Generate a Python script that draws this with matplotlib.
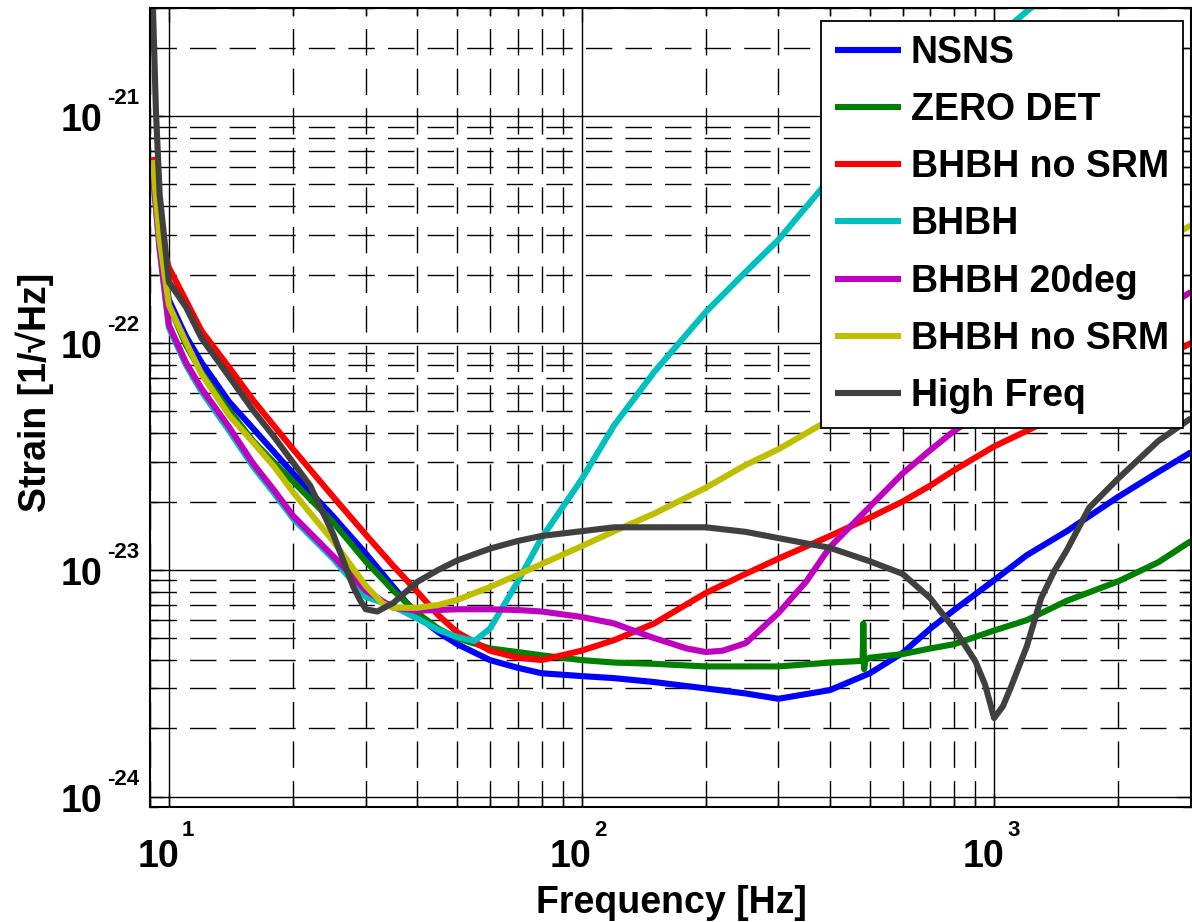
import numpy as np
import matplotlib
matplotlib.use("Agg")
import matplotlib.pyplot as plt
from matplotlib import font_manager
from matplotlib.ticker import FixedLocator, NullFormatter
from matplotlib.transforms import offset_copy

# ---- noise curves (frequency in Hz, strain in 1/sqrt(Hz)) ----
f_nsns = [9.1, 9.2, 9.5, 10, 11, 12, 14, 16, 18, 20, 25, 30, 35, 40, 45, 50, 60, 70, 80,
          100, 120, 150, 200, 250, 300, 400, 500, 600, 700, 800, 1000, 1200, 1500, 2000,
          2500, 3000]
h_nsns = [6.4e-22, 5.3e-22, 2.85e-22, 1.55e-22, 1.07e-22, 8.2e-23, 5.5e-23, 4.2e-23,
          3.3e-23, 2.66e-23, 1.72e-23, 1.18e-23, 8.4e-24, 6.3e-24, 5.3e-24, 4.7e-24,
          4.0e-24, 3.7e-24, 3.5e-24, 3.4e-24, 3.33e-24, 3.2e-24, 3.0e-24, 2.85e-24,
          2.7e-24, 2.95e-24, 3.5e-24, 4.3e-24, 5.5e-24, 6.65e-24, 9.0e-24, 1.16e-23,
          1.48e-23, 2.1e-23, 2.7e-23, 3.3e-23]

f_zero_det = [9.1, 9.2, 9.5, 10, 11, 12, 14, 16, 18, 20, 25, 30, 35, 40, 45, 50, 60, 70,
              80, 100, 120, 150, 200, 250, 300, 400, 470, 480, 482, 484, 487, 500, 600,
              700, 800, 1000, 1200, 1500, 2000, 2500, 3000]
h_zero_det = [6.4e-22, 5.3e-22, 2.85e-22, 1.47e-22, 9.8e-23, 7.4e-23, 5.05e-23, 3.7e-23,
              2.97e-23, 2.45e-23, 1.62e-23, 1.09e-23, 8.1e-24, 6.45e-24, 5.5e-24, 5.0e-24,
              4.5e-24, 4.34e-24, 4.2e-24, 4.0e-24, 3.9e-24, 3.85e-24, 3.75e-24, 3.75e-24,
              3.75e-24, 3.9e-24, 3.96e-24, 3.97e-24, 5.8e-24, 3.65e-24, 4.0e-24, 4.1e-24,
              4.25e-24, 4.5e-24, 4.7e-24, 5.4e-24, 6.0e-24, 7.3e-24, 8.9e-24, 1.08e-23,
              1.34e-23]

f_bhbh_nosrm = [9.1, 9.2, 9.5, 10, 11, 12, 14, 16, 18, 20, 25, 30, 35, 40, 45, 50, 60, 70,
                80, 100, 120, 150, 200, 250, 300, 400, 500, 600, 700, 800, 1000, 1200,
                1500, 2000, 2500, 3000]
h_bhbh_nosrm = [6.6e-22, 5.5e-22, 3.0e-22, 2.15e-22, 1.54e-22, 1.13e-22, 7.8e-23, 5.6e-23,
                4.3e-23, 3.4e-23, 2.1e-23, 1.43e-23, 1.04e-23, 8.0e-24, 6.3e-24, 5.3e-24,
                4.4e-24, 4.1e-24, 4.0e-24, 4.4e-24, 4.9e-24, 5.8e-24, 7.9e-24, 9.6e-24,
                1.12e-23, 1.41e-23, 1.70e-23, 2.0e-23, 2.35e-23, 2.75e-23, 3.5e-23,
                4.1e-23, 5.0e-23, 6.7e-23, 8.4e-23, 1.0e-22]

f_bhbh = [9.1, 9.2, 9.5, 10, 11, 12, 14, 16, 18, 20, 25, 30, 35, 40, 45, 50, 55, 60, 70,
          80, 100, 120, 150, 200, 250, 300, 400, 500, 600, 700, 800, 1000, 1200, 1400]
h_bhbh = [6.2e-22, 4.9e-22, 2.55e-22, 1.17e-22, 8.0e-23, 6.1e-23, 4.1e-23, 2.85e-23,
          2.17e-23, 1.68e-23, 1.12e-23, 7.6e-24, 6.9e-24, 6.1e-24, 5.43e-24, 5.05e-24,
          4.85e-24, 5.5e-24, 8.85e-24, 1.38e-23, 2.5e-23, 4.34e-23, 7.45e-23, 1.37e-22,
          2.06e-22, 2.85e-22, 5.3e-22, 7.5e-22, 1.0e-21, 1.26e-21, 1.55e-21, 2.19e-21,
          2.9e-21, 3.65e-21]

f_bhbh_20deg = [9.1, 9.2, 9.5, 10, 11, 12, 14, 16, 18, 20, 25, 30, 35, 40, 50, 60, 70, 80,
                100, 120, 150, 180, 200, 220, 250, 300, 350, 400, 500, 600, 700, 800,
                1000, 1200, 1500, 2000, 2500, 3000]
h_bhbh_20deg = [6.2e-22, 5.0e-22, 2.6e-22, 1.2e-22, 8.2e-23, 6.3e-23, 4.25e-23, 2.94e-23,
                2.24e-23, 1.73e-23, 1.15e-23, 8.1e-24, 6.8e-24, 6.6e-24, 6.7e-24, 6.7e-24,
                6.65e-24, 6.55e-24, 6.2e-24, 5.8e-24, 5.0e-24, 4.5e-24, 4.34e-24, 4.4e-24,
                4.75e-24, 6.45e-24, 8.85e-24, 1.26e-23, 1.9e-23, 2.66e-23, 3.37e-23,
                4.1e-23, 5.3e-23, 6.3e-23, 8.0e-23, 1.08e-22, 1.37e-22, 1.68e-22]

f_bhbh_nosrm2 = [9.1, 9.2, 9.5, 10, 11, 12, 14, 16, 18, 20, 25, 30, 33, 35, 40, 45, 50, 60,
                 70, 80, 100, 120, 150, 200, 250, 300, 400, 500, 600, 700, 800, 1000, 1200,
                 1500, 2000, 2500, 3000]
h_bhbh_nosrm2 = [6.4e-22, 5.5e-22, 2.85e-22, 1.47e-22, 1.01e-22, 7.3e-23, 4.8e-23, 3.65e-23,
                 2.85e-23, 2.2e-23, 1.34e-23, 8.5e-24, 7.1e-24, 6.8e-24, 6.8e-24, 7.0e-24,
                 7.37e-24, 8.4e-24, 9.5e-24, 1.06e-23, 1.27e-23, 1.48e-23, 1.77e-23, 2.3e-23,
                 2.9e-23, 3.4e-23, 4.6e-23, 5.7e-23, 6.7e-23, 7.8e-23, 8.9e-23, 1.1e-22,
                 1.33e-22, 1.65e-22, 2.2e-22, 2.75e-22, 3.3e-22]

f_high_freq = [9.0, 9.15, 9.3, 9.5, 10, 11, 12, 14, 16, 18, 20, 22, 25, 28, 29, 30, 32, 35,
               40, 45, 50, 60, 70, 80, 100, 120, 150, 200, 250, 300, 400, 500, 600, 700,
               800, 900, 950, 1000, 1050, 1100, 1200, 1300, 1400, 1500, 1700, 2000, 2500,
               3000]
h_high_freq = [5e-21, 3.0e-21, 1.07e-21, 4.5e-22, 1.86e-22, 1.44e-22, 1.05e-22, 7.1e-23,
               5.05e-23, 3.85e-23, 2.97e-23, 2.35e-23, 1.44e-23, 8.4e-24, 7.4e-24, 6.7e-24,
               6.55e-24, 7.15e-24, 8.85e-24, 1.0e-23, 1.1e-23, 1.24e-23, 1.34e-23, 1.41e-23,
               1.48e-23, 1.54e-23, 1.54e-23, 1.54e-23, 1.47e-23, 1.38e-23, 1.25e-23,
               1.09e-23, 9.6e-24, 7.5e-24, 5.5e-24, 3.96e-24, 3.13e-24, 2.22e-24, 2.5e-24,
               3.06e-24, 4.6e-24, 7.5e-24, 9.9e-24, 1.22e-23, 1.88e-23, 2.53e-23, 3.7e-23,
               4.66e-23]

series_labels = ["NSNS", "ZERO DET", "BHBH no SRM", "BHBH", "BHBH 20deg", "BHBH no SRM",
                 "High Freq"]
series_colors = ["#0000ff", "#007f00", "#ff0000", "#00bfbf", "#bf00bf", "#bfbf00", "#404040"]

x_decades = [10, 100, 1000]
y_decades = [1e-24, 1e-23, 1e-22, 1e-21]

# ---- fonts ----
available = {f.name for f in font_manager.fontManager.ttflist}
base_font = "Liberation Sans Narrow" if "Liberation Sans Narrow" in available else "Liberation Sans"
plt.rcParams["font.family"] = [base_font, "Liberation Sans", "DejaVu Sans"]

fig = plt.figure(figsize=(11.92, 9.22), dpi=100)
ax = fig.add_axes([150 / 1192, 1 - 807 / 922, 1041 / 1192, 799 / 922])
ax.set_xscale("log")
ax.set_yscale("log")

curves = [(f_nsns, h_nsns), (f_zero_det, h_zero_det), (f_bhbh_nosrm, h_bhbh_nosrm),
          (f_bhbh, h_bhbh), (f_bhbh_20deg, h_bhbh_20deg), (f_bhbh_nosrm2, h_bhbh_nosrm2),
          (f_high_freq, h_high_freq)]
for (fx, hy), lab, col in zip(curves, series_labels, series_colors):
    ax.plot(fx, hy, color=col, lw=4.4, label=lab, solid_joinstyle="round",
            solid_capstyle="butt")

ax.set_xlim(9, 3000)
ax.set_ylim(9e-25, 3e-21)

# MATLAB-style grid: solid decades, dashed sub-decades
x_minor = [m * d for d in (1, 10, 100, 1000) for m in range(2, 10) if 9 <= m * d <= 3000]
y_minor = [m * d for d in (1e-25, 1e-24, 1e-23, 1e-22, 1e-21) for m in range(2, 10)
           if 9e-25 <= m * d <= 3e-21]
ax.xaxis.set_major_locator(FixedLocator(x_decades))
ax.xaxis.set_minor_locator(FixedLocator(x_minor))
ax.yaxis.set_major_locator(FixedLocator(y_decades))
ax.yaxis.set_minor_locator(FixedLocator(y_minor))
for axis in (ax.xaxis, ax.yaxis):
    axis.set_major_formatter(NullFormatter())
    axis.set_minor_formatter(NullFormatter())
ax.set_axisbelow(True)
ax.grid(True, which="major", color="k", lw=1.0, ls="-")
ax.grid(True, which="minor", color="k", lw=1.0, ls=(0, (19, 9.5)))

ax.tick_params(which="both", direction="in", top=True, right=True, colors="k", width=1.0,
               labelbottom=False, labelleft=False)
ax.tick_params(which="major", length=10)
ax.tick_params(which="minor", length=6)
for sp in ax.spines.values():
    sp.set_linewidth(1.5)
    sp.set_color("k")

# decade labels written as "10" with a raised exponent
xt = ax.get_xaxis_transform()
for v in x_decades:
    e = int(round(np.log10(v)))
    ax.text(v, 0, "10", transform=offset_copy(xt, fig=fig, x=10, y=-60, units="dots"),
            ha="right", va="baseline", fontsize=27, fontweight="bold")
    ax.text(v, 0, str(e), transform=offset_copy(xt, fig=fig, x=13, y=-29, units="dots"),
            ha="left", va="baseline", fontsize=16, fontweight="bold")
yt = ax.get_yaxis_transform()
for v in y_decades:
    e = int(round(np.log10(v)))
    ax.text(0, v, "10", transform=offset_copy(yt, fig=fig, x=-48, y=-15, units="dots"),
            ha="right", va="baseline", fontsize=27, fontweight="bold")
    ax.text(0, v, "-%d" % (-e), transform=offset_copy(yt, fig=fig, x=-43, y=12, units="dots"),
            ha="left", va="baseline", fontsize=16, fontweight="bold")

ax.set_xlabel("Frequency [Hz]", fontsize=27, fontweight="bold")
ax.xaxis.label.set_va("baseline")
ax.xaxis.set_label_coords(0.5005, -0.1327)
ax.set_ylabel("Strain [1/\u221aHz]", fontsize=27, fontweight="bold")
ax.yaxis.label.set_va("baseline")
ax.yaxis.set_label_coords(-0.0999, 0.519)

leg = ax.legend(loc="upper right", bbox_to_anchor=(0.9923, 0.9837), borderaxespad=0,
                prop={"weight": "bold", "size": 27}, fancybox=False, framealpha=1,
                edgecolor="k", handlelength=1.76, handletextpad=0.27, labelspacing=0.565,
                borderpad=0.37)
leg.get_frame().set_linewidth(1.3)

fig.savefig("out.png", dpi=100, facecolor="white")
